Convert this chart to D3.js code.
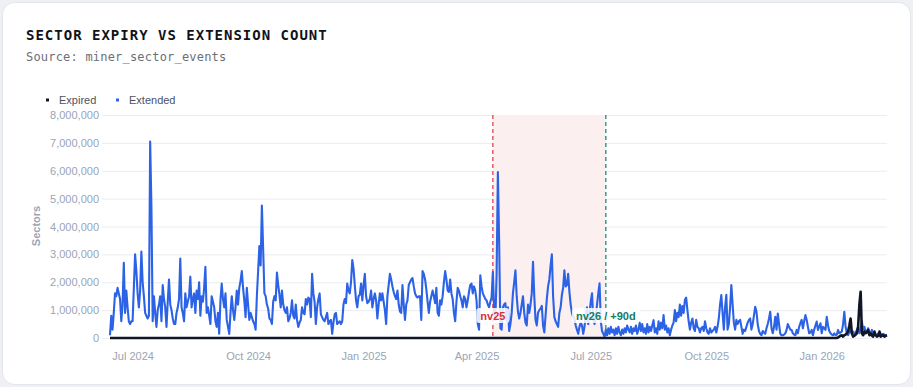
<!DOCTYPE html>
<html>
<head>
<meta charset="utf-8">
<script src="https://cdn.jsdelivr.net/npm/d3@7"></script>
<style>
  body { margin: 0; background: #eef0f3; }
  svg { display: block; }
</style>
</head>
<body>
<svg id="chart" width="913" height="387"></svg>
<script>
// daily series, first day below, values in millions of sectors
const startDate = '2024-06-13';

const extendedM = [
  0.1, 0.8, 0.3, 0.9, 1.6, 1.5, 1.8, 1.6, 1.4, 0.6,
  1.2, 2.7, 0.9, 1.7, 1.1, 0.6, 0.5, 0.6, 0.6, 1.8,
  3.0, 2.4, 1.6, 1.1, 1.7, 3.1, 2.0, 1.5, 0.9, 0.8,
  0.7, 0.8, 7.05, 4.7, 0.6, 1.5, 0.9, 0.4, 1.0, 1.2,
  1.5, 0.6, 1.9, 1.4, 1.1, 0.4, 1.3, 2.1, 1.2, 1.0,
  0.7, 0.5, 0.5, 0.9, 1.1, 1.4, 2.85, 1.1, 0.9, 0.6,
  1.6, 1.1, 1.3, 1.5, 2.2, 1.1, 1.4, 1.6, 0.9, 1.7,
  1.4, 2.0, 0.8, 1.5, 1.3, 1.8, 2.55, 0.9, 1.1, 0.8,
  0.5, 1.5, 1.3, 1.1, 0.6, 0.4, 0.9, 0.15, 1.35, 1.95,
  1.4, 1.1, 1.6, 0.65, 0.4, 0.15, 0.9, 1.5, 1.0, 0.65,
  1.1, 1.7, 1.2, 1.8, 2.05, 2.4, 1.8, 1.35, 0.75, 1.8,
  1.2, 0.65, 0.9, 0.75, 0.6, 0.5, 0.3, 1.5, 2.4, 3.3,
  2.6, 4.75, 3.2, 1.6,
  1.5, 1.2, 1.05, 0.7, 0.65, 0.5, 1.3, 1.5, 1.35, 2.35,
  1.9, 1.55, 1.1, 1.7, 1.2, 1.0, 0.9, 1.1, 0.6, 0.7,
  0.9, 1.35, 0.8, 0.7, 1.2, 0.65, 0.4, 0.55, 0.65, 1.1,
  0.9, 0.85, 1.4, 1.2, 1.45, 1.4, 0.75, 2.3, 1.6, 1.3,
  0.5, 1.1, 1.4, 1.6, 0.85, 0.75, 0.65, 0.6, 0.75, 0.9,
  0.5, 0.6, 0.65, 0.15, 0.55, 0.85, 0.9, 0.5, 0.55, 0.6,
  0.5, 0.6, 1.2, 1.4, 1.25, 1.95, 1.7, 1.6, 2.0, 2.8,
  2.5, 1.9, 1.35, 1.1, 1.5, 1.55, 1.95, 1.35, 1.9, 2.3,
  1.5, 1.25, 1.3, 1.4, 1.7, 1.1, 1.4, 1.6, 1.35, 0.7,
  1.2, 1.6, 1.35, 1.6, 1.3, 1.0, 0.5, 1.5, 1.9, 2.3,
  2.1, 1.85, 1.65, 1.5, 1.4, 1.7, 1.2, 0.95, 0.9, 1.9,
  1.2, 0.65, 1.2, 1.35, 1.9, 2.0, 2.1, 2.15, 1.85, 1.6,
  1.5, 1.45, 1.5, 1.5, 0.65, 2.4, 2.3, 2.1,
  1.75, 1.3, 0.9, 1.3, 1.5, 1.7, 1.5, 1.25, 1.8, 0.9,
  0.8, 1.35, 1.2, 1.5, 2.0, 2.4, 2.1, 1.7, 1.65, 2.1,
  1.6, 1.4, 0.9, 0.6, 1.3, 1.8, 1.7, 1.5, 1.35, 1.1,
  1.5, 1.4, 1.1, 1.35, 1.65, 1.9, 1.95, 1.6, 1.85, 1.7,
  1.35, 0.5, 0.3, 2.25, 1.85, 1.6, 1.5, 1.4, 1.35, 1.2,
  1.1, 1.3, 1.45, 2.37, 1.0, 0.65, 2.3, 5.95, 3.5, 0.35,
  0.3, 1.1, 1.2, 1.25, 0.6, 1.1, 0.25, 0.5, 0.9, 1.6,
  2.0, 2.43, 1.5, 0.95, 0.7, 0.9, 1.2, 1.5, 0.9, 0.55,
  0.45, 1.2, 0.9, 1.2, 1.6, 2.73, 1.5, 0.65, 0.45, 0.9,
  1.0, 1.05, 1.15, 0.45, 0.2, 0.8, 1.4, 1.85, 2.1, 2.6,
  3.0, 1.5, 0.75, 0.6, 0.5, 0.4, 0.9, 1.1, 1.55, 1.8,
  2.43, 1.85, 1.9, 2.3, 1.65, 1.2, 0.9, 0.75, 0.7, 0.45,
  0.3, 0.15, 0.4, 0.55, 0.45, 0.15, 0.4,
  0.8, 1.1, 0.5, 0.9, 1.3, 1.6, 0.65, 0.5, 0.8, 1.2,
  1.6, 1.96, 0.6, 0.25, 0.15, 0.05, 0.3, 0.1, 0.35, 0.15,
  0.4, 0.2, 0.3, 0.1, 0.35, 0.15, 0.4, 0.2, 0.1, 0.3,
  0.15, 0.35, 0.2, 0.45, 0.3, 0.2, 0.4, 0.15, 0.35, 0.25,
  0.45, 0.15, 0.3, 0.55, 0.25, 0.5, 0.2, 0.35, 0.15, 0.5,
  0.2, 0.4, 0.25, 0.45, 0.64, 0.2, 0.35, 0.15, 0.6, 0.3,
  0.55, 0.35, 0.82, 0.3, 0.45, 0.2, 0.35, 0.1, 0.3, 0.45,
  0.55, 1.0, 0.6, 0.9, 0.75, 1.2, 0.8, 1.15, 0.9, 1.36,
  1.45, 1.0, 0.6, 0.3, 0.55, 0.7, 0.35, 0.25, 0.65, 0.4,
  0.35, 0.2, 0.35, 0.4, 0.25, 0.6, 0.35, 0.2, 0.15, 0.35,
  0.2, 0.25, 0.3, 0.4, 0.2, 0.4, 0.7, 1.2, 1.54, 0.9,
  0.3, 1.1, 1.55, 0.3, 0.5, 1.1, 1.9, 1.2, 0.55, 0.3,
  0.65, 0.5, 0.6, 0.65, 0.4, 0.15, 0.3, 0.25,
  0.4, 0.55, 0.65, 0.7, 0.3, 0.5, 0.8, 1.12, 0.95, 0.5,
  0.25, 0.15, 0.1, 0.25, 0.2, 0.15, 0.35, 0.5, 0.7, 0.94,
  0.35, 0.17, 0.4, 0.76, 0.3, 0.88, 0.5, 0.15, 0.1, 0.1,
  0.12, 0.17, 0.29, 0.5, 0.4, 0.3, 0.29, 0.17, 0.12, 0.1,
  0.29, 0.17, 0.4, 0.53, 0.65, 0.35, 0.6, 0.82, 0.65, 0.4,
  0.17, 0.2, 0.29, 0.1, 0.3, 0.45, 0.59, 0.29, 0.4, 0.53,
  0.17, 0.4, 0.35, 0.29, 0.76, 0.45, 0.25, 0.17, 0.12, 0.1,
  0.17, 0.1, 0.12, 0.29, 0.17, 0.2, 0.23, 0.5, 0.94, 0.4,
  0.17, 0.1, 0.2, 0.29, 0.17, 0.23, 0.17, 0.2, 0.29, 0.4,
  0.17, 0.35, 0.59, 0.3, 0.4, 0.2, 0.23, 0.35, 0.17, 0.2,
  0.29, 0.1, 0.15, 0.1, 0.12, 0.15, 0.2, 0.15, 0.1, 0.15,
  0.12, 0.1, 0.1
];

const expiredM = [
  0,0,0,0,0,0,0,0,0,0,0,0,0,0,0,0,0,0,0,0,
  0,0,0,0,0,0,0,0,0,0,0,0,0,0,0,0,0,0,0,0,
  0,0,0,0,0,0,0,0,0,0,0,0,0,0,0,0,0,0,0,0,
  0,0,0,0,0,0,0,0,0,0,0,0,0,0,0,0,0,0,0,0,
  0,0,0,0,0,0,0,0,0,0,0,0,0,0,0,0,0,0,0,0,
  0,0,0,0,0,0,0,0,0,0,0,0,0,0,0,0,0,0,0,0,
  0,0,0,0,0,0,0,0,0,0,0,0,0,0,0,0,0,0,0,0,
  0,0,0,0,0,0,0,0,0,0,0,0,0,0,0,0,0,0,0,0,
  0,0,0,0,0,0,0,0,0,0,0,0,0,0,0,0,0,0,0,0,
  0,0,0,0,0,0,0,0,0,0,0,0,0,0,0,0,0,0,0,0,
  0,0,0,0,0,0,0,0,0,0,0,0,0,0,0,0,0,0,0,0,
  0,0,0,0,0,0,0,0,0,0,0,0,0,0,0,0,0,0,0,0,
  0,0,0,0,0,0,0,0,0,0,0,0,0,0,0,0,0,0,0,0,
  0,0,0,0,0,0,0,0,0,0,0,0,0,0,0,0,0,0,0,0,
  0,0,0,0,0,0,0,0,0,0,0,0,0,0,0,0,0,0,0,0,
  0,0,0,0,0,0,0,0,0,0,0,0,0,0,0,0,0,0,0,0,
  0,0,0,0,0,0,0,0,0,0,0,0,0,0,0,0,0,0,0,0,
  0,0,0,0,0,0,0,0,0,0,0,0,0,0,0,0,0,0,0,0,
  0,0,0,0,0,0,0,0,0,0,0,0,0,0,0,0,0,0,0,0,
  0,0,0,0,0,0,0,0,0,0,0,0,0,0,0,0,0,0,0,0,
  0,0,0,0,0,0,0,0,0,0,0,0,0,0,0,0,0,0,0,0,
  0,0,0,0,0,0,0,0,0,0,0,0,0,0,0,0,0,0,0,0,
  0,0,0,0,0,0,0,0,0,0,0,0,0,0,0,0,0,0,0,0,
  0,0,0,0,0,0,0,0,0,0,0,0,0,0,0,0,0,0,0,0,
  0,0,0,0,0,0,0,0,0,0,0,0,0,0,0,0,0,0,0,0,
  0,0,0,0,0,0,0,0,0,0,0,0,0,0,0,0,0,0,0,0,
  0,0,0,0,0,0,0,0,0,0,0,0,0,0,0,0,0,0,0,0,
  0,0,0,0,0,0,0,0,0,0,0,0,0,0,0,0,0,0,0,0,
  0,0,0,0,0,0,0,0,0,0,0,0,0,0,0,0,0,0,0,0,
  // from 2026-01-14
  0.02, 0.05, 0.08, 0.1, 0.05, 0.1, 0.12, 0.17, 0.23, 0.45,
  0.7, 0.17, 0.05, 0.08, 0.12, 0.17, 0.4, 1.2, 1.66, 0.17,
  0.1, 0.23, 0.17, 0.2, 0.29, 0.1, 0.17, 0.08, 0.05, 0.23,
  0.1, 0.05, 0.08, 0.23, 0.05, 0.08, 0.1, 0.05, 0.08, 0.1
];

const yTicks = [0, 1000000, 2000000, 3000000, 4000000, 5000000, 6000000, 7000000, 8000000];
const xTickLabels = ['Jul 2024', 'Oct 2024', 'Jan 2025', 'Apr 2025', 'Jul 2025', 'Oct 2025', 'Jan 2026'];
const eventDates = ['2025-04-14', '2025-07-13'];
const eventLabels = ['nv25', 'nv26 / +90d'];
const seriesNames = ['Expired', 'Extended'];

const W = 913, H = 387;
const plotL = 110, plotR = 887, plotT = 115, plotB = 338;

const svg = d3.select('#chart');

// card
svg.append('rect')
  .attr('x', 2.5).attr('y', 2.5)
  .attr('width', W - 5).attr('height', H - 5)
  .attr('rx', 12)
  .attr('fill', '#fff')
  .attr('stroke', '#e3e6ea');

svg.append('text')
  .attr('x', 26).attr('y', 40)
  .attr('font-family', 'DejaVu Sans Mono, monospace')
  .attr('font-weight', 700)
  .attr('font-size', 14)
  .attr('letter-spacing', 1)
  .attr('fill', '#111318')
  .text('SECTOR EXPIRY VS EXTENSION COUNT');

svg.append('text')
  .attr('x', 26).attr('y', 61)
  .attr('font-family', 'DejaVu Sans Mono, monospace')
  .attr('font-size', 12)
  .attr('letter-spacing', 0.2)
  .attr('fill', '#6b6f76')
  .text('Source: miner_sector_events');

const parseDay = d3.timeParse('%Y-%m-%d');
const start = parseDay(startDate);
const days = extendedM.map((_, i) => d3.timeDay.offset(start, i));

const x = d3.scaleTime()
  .domain([days[0], days[days.length - 1]])
  .range([plotL, plotR]);

const y = d3.scaleLinear()
  .domain([0, 8000000])
  .range([plotB, plotT]);

// y grid + labels
const gy = svg.append('g')
  .attr('transform', `translate(${plotL - 8},0)`)
  .call(d3.axisLeft(y)
    .tickValues(yTicks)
    .tickFormat(d3.format(','))
    .tickSize(-(plotR - plotL + 8))
    .tickPadding(3));
gy.select('.domain').remove();
gy.selectAll('line').attr('stroke', '#eaecef');
gy.selectAll('text')
  .attr('font-family', 'Liberation Sans, Arial, sans-serif')
  .attr('font-size', 11)
  .attr('fill', '#9aa4b6');

svg.append('text')
  .attr('transform', 'translate(40,226) rotate(-90)')
  .attr('text-anchor', 'middle')
  .attr('font-family', 'Liberation Sans, Arial, sans-serif')
  .attr('font-size', 11)
  .attr('font-weight', 700)
  .attr('fill', '#9aa4b6')
  .text('Sectors');

// x labels
const parseMonth = d3.timeParse('%b %Y');
const gx = svg.append('g')
  .attr('transform', `translate(0,${plotB})`)
  .call(d3.axisBottom(x)
    .tickValues(xTickLabels.map(parseMonth))
    .tickFormat(d3.timeFormat('%b %Y'))
    .tickSize(0)
    .tickPadding(14));
gx.select('.domain').remove();
gx.selectAll('text')
  .attr('font-family', 'Liberation Sans, Arial, sans-serif')
  .attr('font-size', 11)
  .attr('fill', '#9aa4b6');

// upgrade window
const ev = eventDates.map(parseDay);
svg.append('rect')
  .attr('x', x(ev[0])).attr('y', plotT)
  .attr('width', x(ev[1]) - x(ev[0]))
  .attr('height', plotB - plotT)
  .attr('fill', '#fbeff0');

const evColors = ['#e0535a', '#2a9582'];
const evText = ['#dc2f36', '#127a68'];
ev.forEach((d, i) => {
  svg.append('line')
    .attr('x1', x(d)).attr('x2', x(d))
    .attr('y1', plotT).attr('y2', plotB)
    .attr('stroke', evColors[i])
    .attr('stroke-width', 1.4)
    .attr('stroke-dasharray', '4,3');
});

// series
const line = d3.line()
  .x((d, i) => x(days[i]))
  .y(d => y(d * 1000000));

svg.append('path')
  .datum(extendedM)
  .attr('d', line)
  .attr('fill', 'none')
  .attr('stroke', '#2b62e6')
  .attr('stroke-width', 2.1)
  .attr('stroke-linejoin', 'round');

svg.append('path')
  .datum(expiredM)
  .attr('d', line)
  .attr('fill', 'none')
  .attr('stroke', '#101626')
  .attr('stroke-width', 2.6)
  .attr('stroke-linejoin', 'round');

// event labels
ev.forEach((d, i) => {
  const g = svg.append('g');
  const t = g.append('text')
    .attr('x', x(d)).attr('y', 319.5)
    .attr('text-anchor', 'middle')
    .attr('font-family', 'Liberation Sans, Arial, sans-serif')
    .attr('font-size', 11)
    .attr('font-weight', 700)
    .attr('fill', evText[i])
    .text(eventLabels[i]);
  const w = t.node().getComputedTextLength();
  g.insert('rect', 'text')
    .attr('x', x(d) - w / 2 - 4).attr('y', 308)
    .attr('width', w + 8).attr('height', 15)
    .attr('rx', 3)
    .attr('fill', 'rgba(255,255,255,0.85)');
});

// legend
const legendColors = ['#101626', '#2b62e6'];
const legendX = [46, 116];
seriesNames.forEach((name, i) => {
  svg.append('rect')
    .attr('x', legendX[i]).attr('y', 98.5)
    .attr('width', 3).attr('height', 3)
    .attr('fill', legendColors[i]);
  svg.append('text')
    .attr('x', legendX[i] + 13).attr('y', 104)
    .attr('font-family', 'Liberation Sans, Arial, sans-serif')
    .attr('font-size', 11)
    .attr('fill', '#4b5261')
    .text(name);
});
</script>
</body>
</html>
